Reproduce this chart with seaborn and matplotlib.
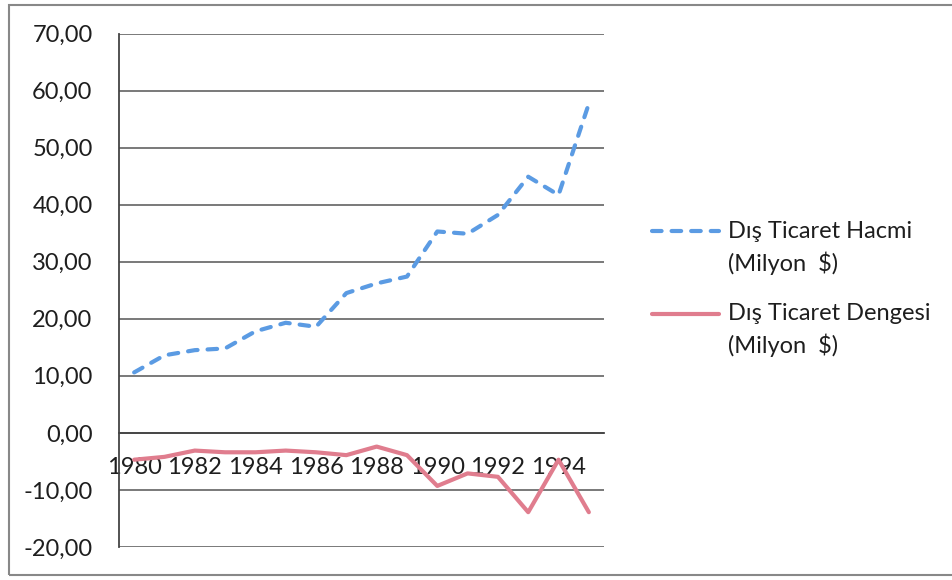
import numpy as np
import pandas as pd
import seaborn as sns
import matplotlib
matplotlib.use("Agg")
import matplotlib.pyplot as plt
from matplotlib.legend_handler import HandlerLine2D
from matplotlib.patches import Rectangle
from matplotlib.ticker import FuncFormatter

years = list(range(1980, 1996))
hacim = [10.6, 13.6, 14.5, 14.8, 17.8, 19.3, 18.6, 24.5, 26.2, 27.4,
         35.3, 34.9, 38.2, 44.9, 41.7, 57.7]
denge = [-4.7, -4.2, -3.1, -3.4, -3.4, -3.1, -3.4, -3.9, -2.4, -3.9,
         -9.3, -7.1, -7.7, -13.9, -4.7, -13.9]
label_hacim = "Dış Ticaret Hacmi\n(Milyon  $)"
label_denge = "Dış Ticaret Dengesi\n(Milyon  $)"
yticks = [-20, -10, 0, 10, 20, 30, 40, 50, 60, 70]

BLUE = "#5b9be3"
PINK = "#e07d8e"
GRID = "#6e6e6e"
TXT = "#1e1e1e"

sns.set_theme(style="white")
plt.rcParams['font.family'] = ['Lato', 'DejaVu Sans']

df = pd.DataFrame({"idx": np.arange(len(years)), "hacim": hacim, "denge": denge})

fig = plt.figure(figsize=(9.52, 5.80), dpi=100)
ax = fig.add_axes([119/952, 1-547/580, (604-119)/952, (547-33.5)/580])

sns.lineplot(data=df, x="idx", y="hacim", ax=ax, color=BLUE, lw=3.0,
             label=label_hacim)
sns.lineplot(data=df, x="idx", y="denge", ax=ax, color=PINK, lw=3.0,
             label=label_denge)
l1, l2 = ax.get_lines()[:2]
l1.set_dashes((2.3, 2.4))
l1.set_dash_capstyle("round")
l2.set_solid_capstyle("round")

ax.set_xlim(-0.5, len(years) - 0.5)
ax.set_ylim(-20, 70)
ax.set_yticks(yticks)
ax.yaxis.set_major_formatter(FuncFormatter(lambda v, p: f"{v:.2f}".replace(".", ",")))
ax.yaxis.grid(True, color=GRID, lw=1.3)
ax.set_axisbelow(True)

ax.set_xticks(np.arange(0, len(years), 2))
ax.set_xticklabels([str(y) for y in years[::2]])
ax.set_xticks(np.arange(-0.5, len(years), 1), minor=True)
ax.tick_params(axis="x", which="major", length=0, pad=17, labelsize=17, colors=TXT)
ax.tick_params(axis="x", which="minor", length=7, width=1.2, direction="out", color="#333333")
ax.tick_params(axis="y", length=8, width=1.2, direction="out", pad=11, labelsize=17,
               colors=TXT)
for t in ax.yaxis.get_ticklines():
    t.set_color(GRID)

for s in ["top", "right"]:
    ax.spines[s].set_visible(False)
ax.spines["bottom"].set_position(("data", 0))
ax.spines["bottom"].set_color("#444444")
ax.spines["bottom"].set_linewidth(1.3)
ax.spines["left"].set_color("#444444")
ax.spines["left"].set_linewidth(1.3)
ax.set_xlabel("")
ax.set_ylabel("")


class TopHandler(HandlerLine2D):
    def create_artists(self, legend, orig_handle, xdescent, ydescent, width,
                       height, fontsize, trans):
        arts = super().create_artists(legend, orig_handle, xdescent, ydescent,
                                      width, height, fontsize, trans)
        for a in arts:
            yd = np.asarray(a.get_ydata(), dtype=float)
            a.set_ydata(yd + 12.0)
        return arts


leg = ax.legend(handles=[l1, l2], labels=[label_hacim, label_denge],
                loc="center left", bbox_to_anchor=(652/952, 1-289/580),
                bbox_transform=fig.transFigure, frameon=False, fontsize=17,
                handlelength=2.85, handletextpad=0.35, labelspacing=1.2,
                borderpad=0, borderaxespad=0,
                handler_map={l1: TopHandler(), l2: TopHandler()})
for t in leg.get_texts():
    t.set_linespacing(1.5)
    t.set_color(TXT)

fig.patches.append(Rectangle((9/952, 1-575/580), 1.0, (575-5)/580,
                             transform=fig.transFigure, fill=False,
                             edgecolor="#888888", lw=1.5))

fig.savefig("out.png", dpi=100)
